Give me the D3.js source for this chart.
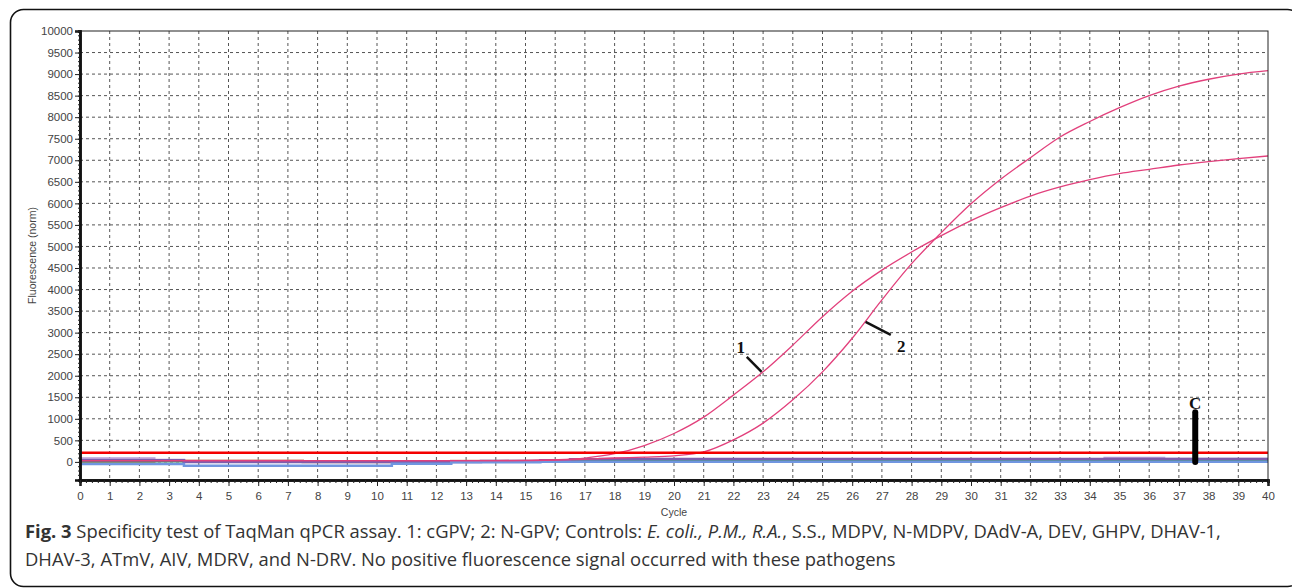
<!DOCTYPE html>
<html>
<head>
<meta charset="utf-8">
<script src="https://cdn.jsdelivr.net/npm/d3@7"></script>
<style>
  body { margin: 0; background: #fff; }
  svg { display: block; }
</style>
</head>
<body>
<script>
// qPCR amplification plot, cycles 0..40
const cycles = d3.range(0, 41);

// sample 1: cGPV
const cgpv = [30,30,30,30,30,30,30,30,30,30,30,30,30,30,30,35,50,90,190,380,660,1040,1550,2090,2710,3370,3960,4450,4870,5250,5600,5900,6170,6380,6550,6690,6790,6890,6970,7040,7100];
// sample 2: N-GPV
const ngpv = [30,30,30,30,30,30,30,30,30,30,30,30,30,30,30,30,40,60,90,110,140,230,510,900,1440,2090,2870,3760,4600,5320,5990,6560,7060,7540,7900,8220,8500,8720,8880,9000,9080];

// negative controls (flat, stepwise)
const ctlLavender = [80,80,80,45,15,15,15,15,15,15,15,15,15,15,15,15,15,30,30,30,30,30,30,30,30,30,30,30,30,30,30,30,30,30,30,90,90,70,70,70,70];
const ctlBlue = [-50,-50,-50,-50,-90,-90,-90,-90,-90,-90,-90,-40,-40,-10,-10,-10,5,5,5,5,5,5,5,5,5,5,5,5,5,5,5,5,5,5,5,5,5,5,5,5,5];
const ctlGreen = [15,15,15,15,15,15,15,15,15,15,15,15,15,5,5,10,15,15,15,15,15,15,15,15,15,15,15,15,15,30,30,30,30,30,20,20,20,20,20,20,20];
const ctlPurple = [40,40,40,40,0,0,0,0,0,0,0,0,0,0,20,20,40,60,70,70,70,70,70,70,70,70,70,70,70,70,70,70,70,70,70,70,70,70,70,70,70];
const ctlBrown = [0,0,0,40,25,25,25,25,0,0,0,0,0,20,20,20,30,30,30,30,30,30,30,30,30,40,40,40,40,40,40,40,40,40,40,40,40,40,40,40,40];

const threshold = 210;

const yTicks = d3.range(0, 10001, 500);
const xTicks = d3.range(0, 41);

const captionBold = "Fig. 3";
const captionLine1 = " Specificity test of TaqMan qPCR assay. 1: cGPV; 2: N-GPV; Controls: ";
const captionItalic = "E. coli., P.M., R.A.";
const captionLine1b = ", S.S., MDPV, N-MDPV, DAdV-A, DEV, GHPV, DHAV-1,";
const captionLine2 = "DHAV-3, ATmV, AIV, MDRV, and N-DRV. No positive fluorescence signal occurred with these pathogens";

var svg = d3.select("body").append("svg")
    .attr("width", 1292)
    .attr("height", 588)

// outer frame of the figure
svg.append("rect")
    .attr("x", 10.5).attr("y", 9.5)
    .attr("width", 1290).attr("height", 577)
    .attr("rx", 13)
    .attr("fill", "none")
    .attr("stroke", "#111")
    .attr("stroke-width", 1.6)

var x = d3.scaleLinear().domain([0, 40]).range([80, 1268])
var y = d3.scaleLinear().domain([-420, 10000]).range([480, 31])

// grid
var grid = svg.append("g")
grid.selectAll("line.v").data(xTicks.slice(1, -1)).enter().append("line")
    .attr("x1", d => x(d)).attr("x2", d => x(d))
    .attr("y1", y(10000)).attr("y2", y(-420))
    .attr("stroke", "#555").attr("stroke-width", 1).attr("stroke-dasharray", "3,3")
grid.selectAll("line.h").data(yTicks.slice(0, -1)).enter().append("line")
    .attr("x1", x(0)).attr("x2", x(40))
    .attr("y1", d => y(d)).attr("y2", d => y(d))
    .attr("stroke", "#555").attr("stroke-width", 1).attr("stroke-dasharray", "3,3")

// control lines
var step = d3.line().x((d, i) => x(cycles[i])).y(d => y(d)).curve(d3.curveStep)
var controls = [
    {v: ctlBrown, c: "#c98a72"},
    {v: ctlLavender, c: "#b9a0d8"},
    {v: ctlGreen, c: "#3f9150"},
    {v: ctlPurple, c: "#7d5eae"},
    {v: ctlBlue, c: "#7096e0"}
]
svg.selectAll("path.ctl").data(controls).enter().append("path")
    .attr("d", d => step(d.v))
    .attr("fill", "none")
    .attr("stroke", d => d.c)
    .attr("stroke-width", 2.5)

// amplification curves
var smooth = d3.line().x((d, i) => x(cycles[i])).y(d => y(d)).curve(d3.curveMonotoneX)
svg.selectAll("path.amp").data([cgpv, ngpv]).enter().append("path")
    .attr("d", d => smooth(d))
    .attr("fill", "none")
    .attr("stroke", "#e2407c")
    .attr("stroke-width", 1.3)

// threshold
svg.append("line")
    .attr("x1", x(0)).attr("x2", x(40))
    .attr("y1", y(threshold)).attr("y2", y(threshold))
    .attr("stroke", "#f40000").attr("stroke-width", 2.5)

// plot frame
svg.append("rect")
    .attr("x", x(0)).attr("y", y(10000))
    .attr("width", x(40) - x(0)).attr("height", y(-420) - y(10000))
    .attr("fill", "none").attr("stroke", "#222").attr("stroke-width", 1)

// axes
var yAxis = svg.append("g").attr("transform", `translate(${x(0)},0)`)
    .call(d3.axisLeft(y).tickValues(yTicks).tickSize(5).tickPadding(2).tickFormat(d3.format("d")))
var yMinor = svg.append("g").attr("transform", `translate(${x(0)},0)`)
    .call(d3.axisLeft(y).tickValues(d3.range(-400, 10001, 100)).tickSize(2).tickFormat(""))
var xAxis = svg.append("g").attr("transform", `translate(0,${y(-420)})`)
    .call(d3.axisBottom(x).tickValues(xTicks).tickSize(6).tickPadding(6))
var xMinor = svg.append("g").attr("transform", `translate(0,${y(-420)})`)
    .call(d3.axisBottom(x).tickValues(d3.range(0, 40.01, 0.2)).tickSize(3).tickFormat(""))

svg.selectAll(".domain").attr("stroke", "#111").attr("stroke-width", 2.5)
svg.selectAll(".tick line").attr("stroke", "#222")
svg.selectAll(".tick text")
    .attr("font-family", "Liberation Sans, Arial, sans-serif")
    .attr("font-size", 11.5)
    .attr("fill", "#444")

svg.append("text")
    .attr("transform", `translate(36,${(y(10000) + y(-420)) / 2}) rotate(-90)`)
    .attr("text-anchor", "middle")
    .attr("font-family", "Liberation Sans, Arial, sans-serif")
    .attr("font-size", 10.5).attr("fill", "#444")
    .text("Fluorescence (norm)")

svg.append("text")
    .attr("x", x(20)).attr("y", 516)
    .attr("text-anchor", "middle")
    .attr("font-family", "Liberation Sans, Arial, sans-serif")
    .attr("font-size", 10.5).attr("fill", "#444")
    .text("Cycle")

// annotations
var ann = svg.append("g")
    .attr("font-family", "Liberation Serif, Times New Roman, serif")
    .attr("font-weight", "bold").attr("font-size", 17).attr("fill", "#111")
ann.append("line")
    .attr("x1", x(22.45)).attr("y1", y(2440)).attr("x2", x(22.95)).attr("y2", y(2090))
    .attr("stroke", "#111").attr("stroke-width", 2.5)
ann.append("text").attr("x", x(22.25)).attr("y", y(2520)).attr("text-anchor", "middle").text("1")
ann.append("line")
    .attr("x1", x(26.45)).attr("y1", y(3250)).attr("x2", x(27.3)).attr("y2", y(2950))
    .attr("stroke", "#111").attr("stroke-width", 2.5)
ann.append("text").attr("x", x(27.65)).attr("y", y(2550)).attr("text-anchor", "middle").text("2")
ann.append("line")
    .attr("x1", x(37.55)).attr("y1", y(1150)).attr("x2", x(37.55)).attr("y2", y(0))
    .attr("stroke", "#000").attr("stroke-width", 6).attr("stroke-linecap", "round")
ann.append("text").attr("x", x(37.55)).attr("y", y(1220)).attr("text-anchor", "middle").text("C")

// caption
var cap = svg.append("g")
    .attr("font-family", "Open Sans, Noto Sans, sans-serif")
    .attr("fill", "#333")
var t1 = cap.append("text").attr("x", 25).attr("y", 538).attr("font-size", 16)
t1.append("tspan").attr("font-weight", "bold").text(captionBold)
t1.append("tspan").text(captionLine1)
t1.append("tspan").attr("font-style", "italic").text(captionItalic)
t1.append("tspan").text(captionLine1b)
var t2 = cap.append("text").attr("x", 25).attr("y", 566).attr("font-size", 16).text(captionLine2)

// fit caption width to the column
var w1 = t1.node().getComputedTextLength()
var fs = 16 * 1197 / w1
t1.attr("font-size", fs)
t2.attr("font-size", fs)
</script>
</body>
</html>
